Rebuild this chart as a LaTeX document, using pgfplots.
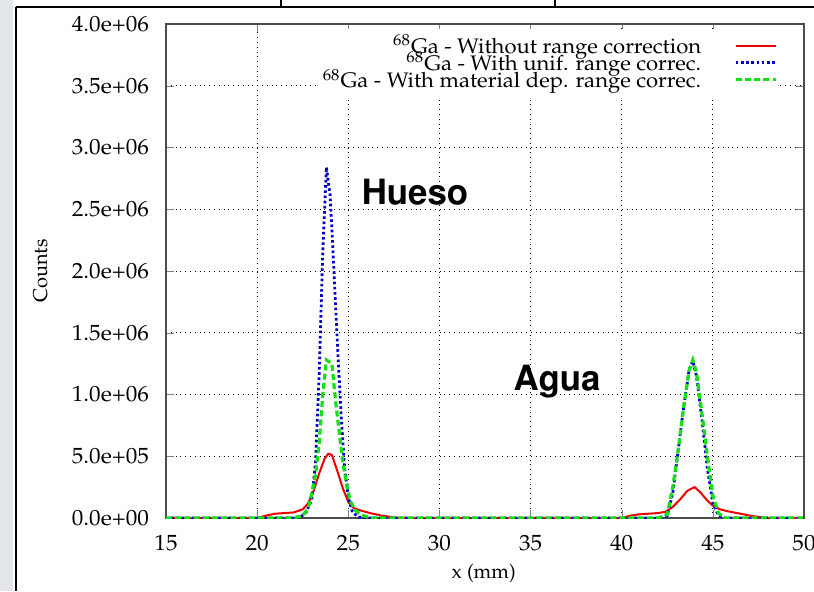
\documentclass[border=0pt]{standalone}
\usepackage[T1]{fontenc}
\usepackage{mathpazo}
\usepackage{helvet}
\usepackage{graphicx}
\usepackage{pgfplots}
\pgfplotsset{compat=1.18}

\definecolor{gpred}{RGB}{240,0,0}
\definecolor{gpblue}{RGB}{0,0,200}
\definecolor{gpgreen}{RGB}{20,225,20}
\definecolor{slidegrey}{RGB}{226,230,234}
% the chart in the slide is a bit stretched sideways
\newcommand{\sx}[1]{\scalebox{1.05}[1]{#1}}

\begin{document}
\begin{tikzpicture}
\useasboundingbox (0pt,0pt) rectangle (407pt,295.5pt);
\fill[white] (0pt,0pt) rectangle (407pt,295.5pt);
\fill[slidegrey] (0pt,0pt) rectangle (6.5pt,295.5pt);
\draw[line width=1pt] (8pt,0pt) -- (8pt,292pt);
\draw[line width=0.8pt] (8pt,292pt) -- (407pt,292pt);
\draw[line width=0.8pt] (140.5pt,292pt) -- (140.5pt,295.5pt);
\draw[line width=0.8pt] (277.5pt,292pt) -- (277.5pt,295.5pt);

\begin{axis}[
    at={(83pt,36.5pt)}, anchor=south west,
    scale only axis,
    width=319pt, height=247pt,
    xmin=15, xmax=50,
    ymin=0, ymax=4000000,
    xtick={15,20,...,50},
    xticklabels={\sx{15},\sx{20},\sx{25},\sx{30},\sx{35},\sx{40},\sx{45},\sx{50}},
    ytick={0,500000,...,4000000},
    yticklabels={\sx{0.0e+00},\sx{5.0e+05},\sx{1.0e+06},\sx{1.5e+06},\sx{2.0e+06},\sx{2.5e+06},\sx{3.0e+06},\sx{3.5e+06},\sx{4.0e+06}},
    scaled ticks=false,
    tick label style={font=\fontsize{11}{12}\selectfont},
    yticklabel style={xshift=-5pt},
    xticklabel style={yshift=-5pt},
    tick align=inside,
    major tick length=4pt,
    axis line style={black!70, line width=0.6pt},
    grid=major,
    grid style={black, dotted, line width=0.45pt},
    xlabel={x (mm)},
    ylabel={Counts},
    label style={font=\fontsize{12}{13}\selectfont},
    every axis x label/.style={at={(axis description cs:0.498,-0.113)}, anchor=center},
    every axis y label/.style={at={(axis description cs:-0.197,0.5)}, anchor=center, rotate=90},
    legend plot pos=right,
    legend cell align=right,
    legend image code/.code={\draw[#1] (0pt,0pt) -- (20pt,0pt);},
    legend style={at={(axis description cs:0.962,0.991)}, anchor=north east,
        draw=none, fill=white, font=\fontsize{10.5}{10}\selectfont,
        row sep=-6.3pt, inner sep=1pt,
        /tikz/every odd column/.append style={column sep=14.5pt}},
]

\addplot[gpred, line width=1pt] coordinates {
(15,0) (20,0) (20.5,20000) (21,35000) (21.5,40000) (22,45000) (22.5,70000)
(22.8,120000) (23.1,220000) (23.4,360000) (23.7,480000) (23.9,520000)
(24.1,510000) (24.4,380000) (24.7,240000) (25.0,130000) (25.3,80000)
(25.7,60000) (26.2,40000) (26.8,20000) (27.5,5000) (28,0)
(40,0) (40.5,20000) (41,30000) (41.5,35000) (42,40000) (42.4,50000)
(42.8,90000) (43.2,150000) (43.6,220000) (44.0,250000) (44.3,210000)
(44.7,140000) (45.0,100000) (45.4,70000) (45.8,55000) (46.5,35000)
(47.2,15000) (48,0) (50,0)
};
\addlegendentry{\sx{\textsuperscript{68}Ga - Without range correction}}

\addplot[gpblue, line width=1.4pt, dash pattern=on 1.3pt off 1.3pt] coordinates {
(15,0) (22,0) (22.4,10000) (22.7,50000) (23.0,150000) (23.2,450000)
(23.4,1150000) (23.6,2150000) (23.8,2840000) (24.0,2620000) (24.2,2050000)
(24.4,1420000) (24.6,850000) (24.8,400000) (25.0,170000) (25.2,60000)
(25.5,10000) (26,0)
(42,0) (42.5,20000) (42.8,200000) (43.1,550000) (43.4,900000)
(43.7,1200000) (43.9,1270000) (44.1,1150000) (44.4,800000) (44.7,400000)
(45.0,120000) (45.3,20000) (45.6,0) (50,0)
};
\addlegendentry{\sx{\textsuperscript{68}Ga - With unif. range correc.}}

\addplot[gpgreen, line width=1.6pt, dash pattern=on 3pt off 1.6pt] coordinates {
(15,0) (22,0) (22.5,20000) (22.8,80000) (23.0,200000) (23.2,350000)
(23.4,600000) (23.6,1000000) (23.8,1280000) (24.0,1260000) (24.1,1250000)
(24.3,950000) (24.5,700000) (24.7,450000) (24.9,280000) (25.1,140000)
(25.4,60000) (25.8,20000) (26.3,0)
(42,0) (42.5,30000) (42.8,250000) (43.1,550000) (43.4,900000)
(43.7,1200000) (43.9,1280000) (44.1,1180000) (44.4,850000) (44.7,500000)
(45.0,180000) (45.3,40000) (45.7,0) (50,0)
};
\addlegendentry{\sx{\textsuperscript{68}Ga - With material dep. range correc.}}

\node[font=\fontsize{17.4}{20}\selectfont\sffamily\bfseries] at (axis cs:28.66,2640000) {Hueso};
\node[font=\fontsize{17.4}{20}\selectfont\sffamily\bfseries] at (axis cs:36.45,1100000) {Agua};
\end{axis}
\end{tikzpicture}
\end{document}
